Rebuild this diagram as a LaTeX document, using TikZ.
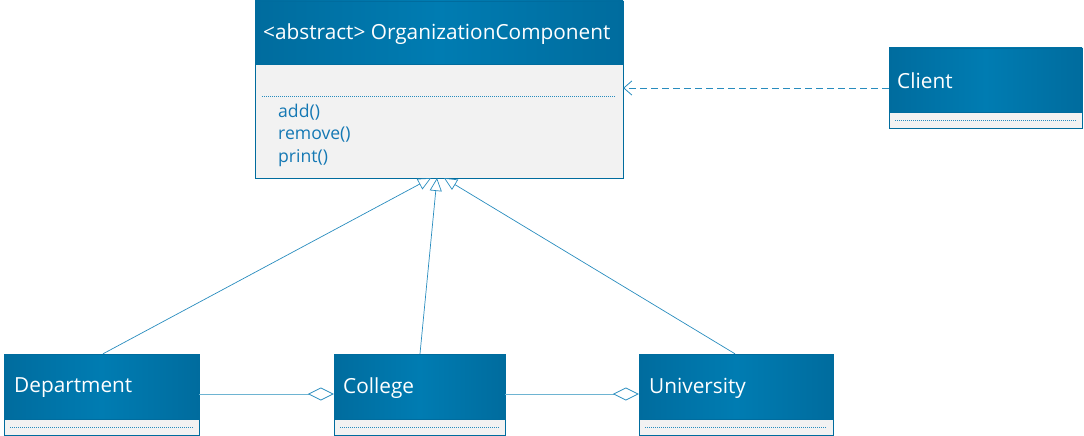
\documentclass[tikz,border=0pt]{standalone}
\usepackage{fontspec}
\setmainfont{Open Sans}
\usetikzlibrary{arrows.meta,calc}
\definecolor{hdr}{RGB}{0,124,178}
\definecolor{hdrdark}{RGB}{0,108,158}
\definecolor{bodyg}{RGB}{242,242,242}
\definecolor{txtb}{RGB}{20,120,180}
\definecolor{linec}{RGB}{40,140,190}
\definecolor{aggc}{RGB}{110,180,210}
\tikzset{
  hdrbox/.style={draw=hdrdark,line width=0.8pt,left color=hdrdark,right color=hdrdark, middle color=hdr},
  comp/.style={draw=hdrdark,fill=bodyg,line width=0.8pt},
  dotl/.style={draw=linec,line width=0.6pt,dash pattern=on 1pt off 1pt},
  title/.style={text=white,font=\fontsize{20.8}{24}\selectfont,anchor=west,inner sep=0pt},
  meth/.style={text=txtb,font=\fontsize{17.6}{20}\selectfont,anchor=west,inner sep=0pt},
  inh/.style={draw=linec,line width=0.7pt,-{Triangle[open,length=13pt,width=12pt]}},
  agg/.style={draw=aggc,line width=1pt,-{Diamond[open,length=26pt,width=13pt,color=linec,line width=0.8pt]}},
  dep/.style={draw=linec,line width=0.8pt,dashed,dash pattern=on 7pt off 4pt,-{Straight Barb[length=8pt,width=14pt]}},
}
\begin{document}
\begin{tikzpicture}[x=1pt,y=-1pt]
\useasboundingbox (0,0) rectangle (1084,436);
% main class
\path[comp] (255,64) rectangle (623,178);
\path[hdrbox] (255,1) rectangle (623,64);
\node[title] (ocT) at (263,34) {<abstract> OrganizationComponent};
\draw[dotl] (262,96) -- (616,96);
\node[meth] (m1) at (278,112) {add()};
\node[meth] (m2) at (278,135) {remove()};
\node[meth] (m3) at (278,158) {print()};
\node[inner sep=0pt,minimum width=368pt,minimum height=177pt] (OC) at (439,89.5) {};
% client
\path[hdrbox] (889,48) rectangle (1082,112);
\path[comp] (889,112) rectangle (1082,128);
\draw[dotl] (895,120) -- (1077,120);
\node[title] (clT) at (897,81) {Client};
\node[inner sep=0pt,minimum width=193pt,minimum height=80pt] (CL) at (985.5,88) {};
% department
\path[hdrbox] (4,354) rectangle (199,419);
\path[comp] (4,419) rectangle (199,435);
\draw[dotl] (10,427) -- (193,427);
\node[title] (dpT) at (14,388) {Department};
\node[inner sep=0pt,minimum width=195pt,minimum height=81pt] (DP) at (101.5,394.5) {};
% college
\path[hdrbox] (334,354) rectangle (505,419);
\path[comp] (334,419) rectangle (505,435);
\draw[dotl] (340,427) -- (499,427);
\node[title] (coT) at (343,388) {College};
\node[inner sep=0pt,minimum width=171pt,minimum height=81pt] (CO) at (419.5,394.5) {};
% university
\path[hdrbox] (639,354) rectangle (833,419);
\path[comp] (639,419) rectangle (833,435);
\draw[dotl] (645,427) -- (827,427);
\node[title] (unT) at (649,388) {University};
\node[inner sep=0pt,minimum width=194pt,minimum height=81pt] (UN) at (736,394.5) {};
% connectors
\coordinate (t1) at (431,178);
\coordinate (t2) at (437,178);
\coordinate (t3) at (444,178);
\draw[inh] (DP.north) ++(1.5,0) -- (t1);
\draw[inh] (CO.north) ++(0.5,0) -- (t2);
\draw[inh] (UN.north) ++(-1,0) -- (t3);
\draw[dep] (CL.west) -- (OC.east |- CL.west);
\draw[agg] (DP.east |- 0,394) -- (CO.west |- 0,394);
\draw[agg] (CO.east |- 0,394) -- (UN.west |- 0,394);
\end{tikzpicture}
\end{document}
